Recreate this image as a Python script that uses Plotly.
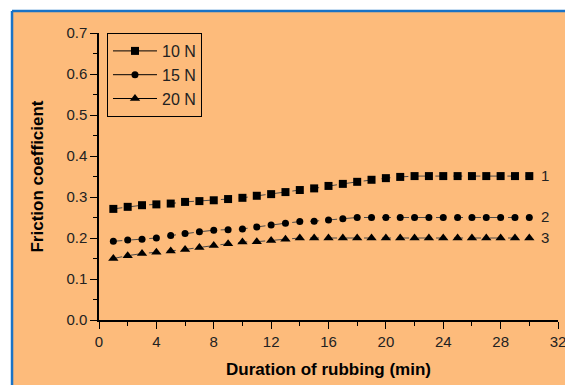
import plotly.graph_objects as go

minutes = list(range(1, 31))
f_10N = [0.271, 0.276, 0.280, 0.282, 0.284, 0.288, 0.290, 0.292, 0.295, 0.298,
         0.303, 0.307, 0.312, 0.317, 0.321, 0.327, 0.332, 0.337, 0.342, 0.346,
         0.349, 0.351, 0.351, 0.351, 0.351, 0.351, 0.351, 0.351, 0.351, 0.351]
f_15N = [0.192, 0.195, 0.197, 0.200, 0.206, 0.211, 0.215, 0.219, 0.220, 0.222,
         0.227, 0.232, 0.236, 0.240, 0.241, 0.244, 0.247, 0.250, 0.250, 0.250,
         0.250, 0.250, 0.250, 0.250, 0.250, 0.250, 0.250, 0.250, 0.250, 0.250]
f_20N = [0.150, 0.157, 0.162, 0.165, 0.168, 0.172, 0.177, 0.182, 0.186, 0.190,
         0.191, 0.194, 0.197, 0.200, 0.200, 0.200, 0.200, 0.200, 0.200, 0.200,
         0.200, 0.200, 0.200, 0.200, 0.200, 0.200, 0.200, 0.200, 0.200, 0.200]
series_names = ["10 N", "15 N", "20 N"]
curve_labels = ["1", "2", "3"]
symbols = ["square", "circle", "triangle-up"]
sizes = [8, 7, 9]

fig = go.Figure()
for name, ys, sym, sz, lab in zip(series_names, [f_10N, f_15N, f_20N], symbols, sizes, curve_labels):
    fig.add_trace(go.Scatter(
        x=minutes, y=ys, mode="lines+markers", showlegend=False,
        line=dict(color="#4a4a4a", width=1, dash="dash"),
        marker=dict(symbol=sym, size=sz, color="black"),
    ))
    fig.add_trace(go.Scatter(
        x=[None], y=[None], mode="lines+markers", name=name,
        line=dict(color="black", width=1),
        marker=dict(symbol=sym, size=sz, color="black"),
    ))
    fig.add_annotation(x=minutes[-1], y=ys[-1], text=lab, showarrow=False,
                       xanchor="left", xshift=10, yshift=1,
                       font=dict(family="Liberation Sans, Arial", size=15, color="#222"))

# orange background panel (no outline) plus blue left/top border lines
fig.add_shape(type="rect", xref="paper", yref="paper",
              x0=-0.1895, x1=1.1, y0=-0.3, y1=1.0767,
              fillcolor="#FDBB7B", line=dict(width=0), layer="below")
fig.add_shape(type="line", xref="paper", yref="paper",
              x0=-0.1895, x1=1.1, y0=1.0767, y1=1.0767,
              line=dict(color="#1a73c6", width=2.5), layer="below")
fig.add_shape(type="line", xref="paper", yref="paper",
              x0=-0.1895, x1=-0.1895, y0=-0.3, y1=1.0767,
              line=dict(color="#1a73c6", width=2.5), layer="below")

axis_font = dict(family="Liberation Sans, Arial", size=15, color="#222")
fig.update_xaxes(range=[0, 32], dtick=4, tick0=0, ticks="outside", ticklen=7, tickwidth=1.2,
                 showline=True, linecolor="black", linewidth=1.5, showgrid=False, zeroline=False,
                 minor=dict(dtick=2, ticklen=4, tickwidth=1.2, ticks="outside", showgrid=False),
                 tickfont=axis_font, tickcolor="black", automargin=False,
                 ticklabeloverflow="allow",
                 title=dict(text="<b>Duration of rubbing (min)</b>", standoff=14,
                            font=dict(family="Liberation Sans, Arial", size=17, color="black")))
fig.update_yaxes(range=[0, 0.7], dtick=0.1, tick0=0, ticks="outside", ticklen=7, tickwidth=1.2,
                 tickformat=".1f",
                 showline=True, linecolor="black", linewidth=1.5, showgrid=False, zeroline=False,
                 minor=dict(dtick=0.05, ticklen=4, tickwidth=1.2, ticks="outside", showgrid=False),
                 tickfont=axis_font, tickcolor="black", automargin=False,
                 ticklabeloverflow="allow",
                 title=dict(text="<b>Friction coefficient</b>", standoff=18,
                            font=dict(family="Liberation Sans, Arial", size=17, color="black")))

fig.update_layout(
    width=565, height=385,
    margin=dict(l=99, r=7, t=33, b=65, autoexpand=False),
    paper_bgcolor="white", plot_bgcolor="rgba(0,0,0,0)",
    legend=dict(x=0.0174, y=1.0, xanchor="left", yanchor="top",
                bgcolor="rgba(0,0,0,0)", bordercolor="black", borderwidth=1,
                font=dict(family="Liberation Sans, Arial", size=16, color="#222"),
                itemwidth=44, tracegroupgap=0),
    font=dict(family="Liberation Sans, Arial"),
)

fig.write_html(
    "out.html",
    config={"displayModeBar": False},
    post_script="document.documentElement.style.overflow='hidden';"
                "document.body.style.margin='0';document.body.style.overflow='hidden';",
)
